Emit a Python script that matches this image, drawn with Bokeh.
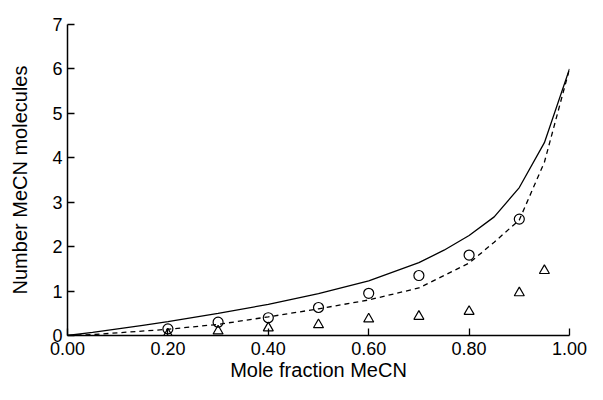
from bokeh.plotting import figure
from bokeh.models import Range1d, FixedTicker, NumeralTickFormatter
from bokeh.embed import file_html
from bokeh.resources import INLINE

# Data
circle_x = [0.2, 0.3, 0.4, 0.5, 0.6, 0.7, 0.8, 0.9]
circle_y = [0.15, 0.30, 0.40, 0.63, 0.95, 1.35, 1.81, 2.62]

tri_x = [0.2, 0.3, 0.4, 0.5, 0.6, 0.7, 0.8, 0.9, 0.95]
tri_y = [0.03, 0.10, 0.17, 0.24, 0.37, 0.43, 0.54, 0.96, 1.46]

solid_x = [0.0, 0.05, 0.1, 0.15, 0.2, 0.3, 0.4, 0.5, 0.6, 0.7, 0.75, 0.8, 0.85, 0.9, 0.95, 1.0]
solid_y = [0.0, 0.07, 0.15, 0.23, 0.31, 0.50, 0.70, 0.94, 1.23, 1.64, 1.92, 2.25, 2.67, 3.33, 4.34, 6.0]

dash_x = [0.0, 0.05, 0.1, 0.2, 0.3, 0.4, 0.5, 0.6, 0.7, 0.8, 0.85, 0.9, 0.95, 1.0]
dash_y = [0.0, 0.02, 0.06, 0.14, 0.25, 0.42, 0.60, 0.80, 1.07, 1.63, 2.10, 2.60, 3.90, 6.0]

x_ticks = [0.0, 0.2, 0.4, 0.6, 0.8, 1.0]
y_ticks = [0, 1, 2, 3, 4, 5, 6, 7]

FONT = "Liberation Sans"

p = figure(width=587, height=384, output_backend="svg", toolbar_location=None,
           x_range=Range1d(0, 1.0), y_range=Range1d(0, 7),
           min_border_left=67, min_border_right=18, min_border_top=24, min_border_bottom=49)
p.outline_line_color = None
p.grid.visible = False
p.background_fill_color = "white"
p.border_fill_color = "white"

p.line(solid_x, solid_y, line_color="black", line_width=1.3)
p.line(dash_x, dash_y, line_color="black", line_width=1.3, line_dash="5 4")
p.scatter(circle_x, circle_y, marker="circle", size=10, fill_color=None,
          line_color="black", line_width=1.2)
p.scatter(tri_x, tri_y, marker="triangle", size=10, fill_color=None,
          line_color="black", line_width=1.2)

for ax in (p.xaxis[0], p.yaxis[0]):
    ax.axis_line_color = "black"
    ax.axis_line_width = 1.5
    ax.major_tick_in = 7
    ax.major_tick_out = 0
    ax.major_tick_line_width = 1.3
    ax.minor_tick_line_color = None
    ax.major_label_text_font = FONT
    ax.major_label_text_font_size = "18px"
    ax.major_label_text_color = "black"
    ax.axis_label_text_font = FONT
    ax.axis_label_text_font_size = "20px"
    ax.axis_label_text_font_style = "normal"
    ax.axis_label_text_color = "black"

p.xaxis[0].ticker = FixedTicker(ticks=x_ticks)
p.xaxis[0].formatter = NumeralTickFormatter(format="0.00")
p.xaxis[0].axis_label = "Mole fraction MeCN"
p.xaxis[0].major_label_standoff = 6
p.xaxis[0].axis_label_standoff = 1

p.yaxis[0].ticker = FixedTicker(ticks=y_ticks)
p.yaxis[0].axis_label = "Number MeCN molecules"
p.yaxis[0].major_label_standoff = 5
p.yaxis[0].axis_label_standoff = 18

open("out.html", "w").write(file_html(p, INLINE))
